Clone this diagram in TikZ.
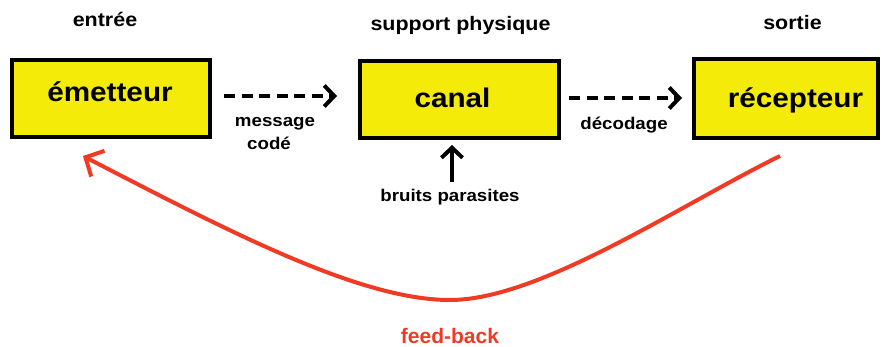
\documentclass[tikz,border=0pt]{standalone}
\usepackage{fontspec}
\setmainfont[FakeStretch=1.1]{Liberation Sans}
\newfontfamily\fbfont{Liberation Sans}
\usetikzlibrary{arrows.meta}
\definecolor{boxyellow}{RGB}{244,236,8}
\definecolor{fbred}{RGB}{240,58,36}
\tikzset{
  boxst/.style={draw=black, line width=4pt, fill=boxyellow, minimum width=#1, minimum height=77pt, inner sep=0pt},
  bigtxt/.style={anchor=base, inner sep=0pt, font=\fontsize{27}{30}\selectfont\bfseries},
  toptxt/.style={anchor=base, inner sep=0pt, font=\fontsize{19.5}{22}\selectfont\bfseries},
  midtxt/.style={anchor=base, inner sep=0pt, font=\fontsize{17}{20}\selectfont\bfseries},
  dasharrow/.style={line width=4pt, dash pattern=on 11pt off 6.5pt, -{Straight Barb[length=10pt,width=21pt]}},
  solidarrow/.style={line width=4pt, -{Straight Barb[length=10pt,width=21pt]}},
  fbst/.style={draw=fbred, line width=4pt, -{Straight Barb[length=14pt,width=29pt]}}
}
\begin{document}
\begin{tikzpicture}[x=1pt,y=-1pt]
\useasboundingbox (0,0) rectangle (882,347);
% boxes
\node[boxst=198pt] (em) at (111,98.5) {};
\node[boxst=199pt] (canal) at (459.5,99.5) {};
\node[boxst=184pt, minimum height=79pt] (rec) at (786,98.5) {};
% box texts
\node[bigtxt] (emt) at (110,102) {émetteur};
\node[bigtxt] (canalt) at (452.5,108) {canal};
\node[bigtxt] (rect) at (795.5,108) {récepteur};
% top labels
\node[toptxt] (entree) at (105,27) {entrée};
\node[toptxt] (support) at (460.5,31) {support physique};
\node[toptxt] (sortie) at (792.5,30) {sortie};
% connector labels
\node[midtxt] (msg) at (275,127) {message};
\node[midtxt] (code) at (269,150) {codé};
\node[midtxt] (decod) at (624,130) {décodage};
\node[midtxt] (bruits) at (450,201.7) {bruits parasites};
\node[anchor=base, inner sep=0pt, text=fbred, font=\fbfont\fontsize{21}{24}\selectfont\bfseries] (fbt) at (450,343) {feed-back};
% dashed arrows
\coordinate (a1) at ([xshift=12pt,yshift=2.5pt]em.east);
\coordinate (a2) at (canal.west |- a1);
\draw[dasharrow] (a1) -- ([xshift=-21pt]a2);
\coordinate (b1) at ([xshift=8pt,yshift=1.5pt]canal.east);
\coordinate (b2) at (rec.west |- b1);
\draw[dasharrow] (b1) -- ([xshift=-10pt]b2);
% noise arrow
\coordinate (n1) at (452,182);
\coordinate (n2) at (n1 |- canal.south);
\draw[solidarrow] (n1) -- ([yshift=-5pt]n2);
% feedback
\coordinate (fb1) at (780,156);
\coordinate (fb2) at (83,156);
\draw[fbst] (fb1) .. controls (680,205) and (540,300) .. (450,300)
  .. controls (360,300) and (230,232) .. (fb2);
\end{tikzpicture}
\end{document}
